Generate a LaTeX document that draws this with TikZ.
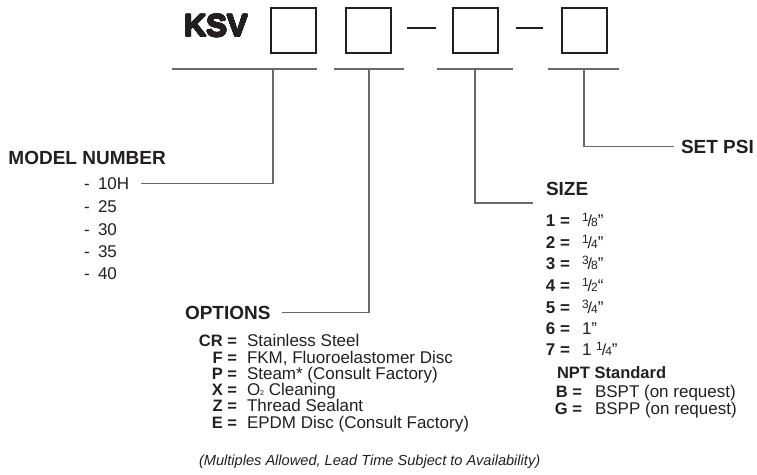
\documentclass[tikz,border=0pt]{standalone}
\usepackage{fontspec}
\usepackage{contour}
\setmainfont{Liberation Sans}
\definecolor{ink}{RGB}{35,31,32}
\definecolor{rulec}{RGB}{105,105,105}
\contourlength{0.7pt}
\contournumber{24}
\newcommand{\fr}[2]{\raisebox{4.6pt}{\fontsize{12}{12}\selectfont #1}\kern-1pt{\fontsize{16}{16}\selectfont /}\kern-1pt{\fontsize{12}{12}\selectfont #2}}
\begin{document}
\begin{tikzpicture}[x=1pt,y=-1pt,
  every node/.style={inner sep=0pt,outer sep=0pt,text=ink},
  codebox/.style={draw=ink,line width=2pt,minimum size=45pt},
  sepline/.style={draw=ink,line width=2pt},
  uline/.style={draw=rulec,line width=1.1pt},
  conn/.style={draw=rulec,line width=1.1pt},
  title/.style={font=\bfseries\fontsize{31}{31}\selectfont},
  head/.style={font=\bfseries\fontsize{19}{19}\selectfont},
  body/.style={font=\fontsize{17}{17}\selectfont},
  keyb/.style={font=\bfseries\fontsize{16.5}{16.5}\selectfont},
  sizekey/.style={font=\bfseries\fontsize{17}{17}\selectfont},
  frac/.style={font=\fontsize{17}{17}\selectfont},
  foot/.style={font=\itshape\fontsize{14.6}{14.6}\selectfont}]
\useasboundingbox (0,0) rectangle (757,474);

% title and code boxes
\node[title,anchor=base west] (ksv) at (184,36.5) {\contour{ink}{KSV}};
\node[codebox] (b1) at (293.5,30.5) {};
\node[codebox] (b2) at (368.5,30.5) {};
\node[codebox] (b3) at (475,30.5) {};
\node[codebox] (b4) at (584,30.5) {};
\coordinate (d1a) at (407,28); \coordinate (d1b) at (436,28);
\coordinate (d2a) at (516,28); \coordinate (d2b) at (543,28);
\draw[sepline] (d1a) -- (d1b);
\draw[sepline] (d2a) -- (d2b);

% underlines
\coordinate (u1a) at (172,69); \coordinate (u1b) at (317,69); \coordinate (t1) at (273,69);
\coordinate (u2a) at (334,69); \coordinate (u2b) at (404,69); \coordinate (t2) at (369,69);
\coordinate (u3a) at (437,69); \coordinate (u3b) at (513,69); \coordinate (t3) at (475,69);
\coordinate (u4a) at (548,69); \coordinate (u4b) at (619,69); \coordinate (t4) at (584,69);
\draw[uline] (u1a) -- (u1b);
\draw[uline] (u2a) -- (u2b);
\draw[uline] (u3a) -- (u3b);
\draw[uline] (u4a) -- (u4b);

% MODEL NUMBER
\node[head,anchor=base west] (model) at (8.5,164) {MODEL NUMBER};
\foreach \v/\y/\n in {10H/189/m1,25/212/m2,30/235/m3,35/257/m4,40/279/m5}{
  \node[body,anchor=base west] (\n d) at (84,\y) {-};
  \node[body,anchor=base west] (\n) at (98,\y) {\v};
}
\draw[conn] (t1) |- ([xshift=12pt]m1.east);

% OPTIONS
\node[head,anchor=base west] (options) at (185,319) {OPTIONS};
\draw[conn] (t2) |- ([xshift=11pt]options.east);
\foreach \k/\v/\y/\n in {CR/Stainless Steel/346/o1,
  F/{FKM, Fluoroelastomer Disc}/363/o2,
  P/{Steam* (Consult Factory)}/379/o3,
  X/{O\raisebox{-0.3pt}{\fontsize{7}{7}\selectfont 2} Cleaning}/395/o4,
  Z/Thread Sealant/411/o5,
  E/{EPDM Disc (Consult Factory)}/428/o6}{
  \node[keyb,anchor=base east] (\n k) at (237,\y) {\k\ =};
  \node[body,anchor=base west] (\n) at (247,\y) {\v};
}
\node[foot,anchor=base west] (note) at (199,465) {(Multiples Allowed, Lead Time Subject to Availability)};

% SIZE
\node[head,anchor=base west] (size) at (546,195.5) {SIZE};
\coordinate (c3) at (533,203);
\draw[conn] (t3) |- (c3);
\foreach \k/\v/\y/\n in {1/{\fr{1}{8}”}/226/s1,2/{\fr{1}{4}”}/248/s2,3/{\fr{3}{8}”}/269/s3,4/{\fr{1}{2}“}/291/s4,5/{\fr{3}{4}”}/313/s5,6/{1”}/334/s6,7/{1 \fr{1}{4}”}/355/s7}{
  \node[sizekey,anchor=base east] (\n k) at (570,\y) {\k\ =};
  \node[frac,anchor=base west] (\n) at (582,\y) {\v};
}
\node[keyb,anchor=base west] (npt) at (557,378) {NPT Standard};
\node[keyb,anchor=base east] (bk) at (582,397) {B =};
\node[body,anchor=base west] (bv) at (595,397) {BSPT (on request)};
\node[keyb,anchor=base east] (gk) at (582,414) {G =};
\node[body,anchor=base west] (gv) at (595,414) {BSPP (on request)};

% SET PSI
\node[head,anchor=base west] (psi) at (681,153) {SET PSI};
\draw[conn] (t4) |- ([xshift=-7pt]psi.west);
\end{tikzpicture}
\end{document}
